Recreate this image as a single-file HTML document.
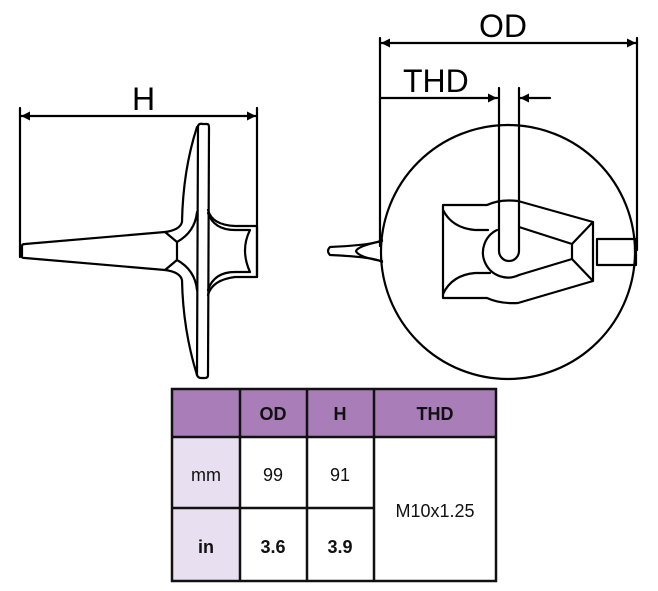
<!DOCTYPE html>
<html><head><style>
html,body{margin:0;padding:0;background:#fff;}
body{width:658px;height:591px;overflow:hidden;}
</style></head><body>
<svg width="658" height="591" viewBox="0 0 658 591" xmlns="http://www.w3.org/2000/svg" style="position:absolute;left:0;top:0">
<defs>
<marker id="a" viewBox="0 0 10 10" refX="10" refY="5" markerWidth="18" markerHeight="9" markerUnits="userSpaceOnUse" orient="auto-start-reverse"><path d="M0,0L10,5L0,10z" fill="#000"/></marker>
</defs>
<g fill="none" stroke="#000" stroke-width="2.2" stroke-linejoin="round" stroke-linecap="round">
<line x1="20" y1="108" x2="20" y2="257"/>
<line x1="257" y1="108" x2="257" y2="277"/>
<line x1="21" y1="116" x2="256" y2="116" marker-start="url(#a)" marker-end="url(#a)"/>
<path d="M22,257 L22,246 Q22,244 25,244 L165,232 L177,242 L177,260 L165,270 L25,258 Q22,258 22,257"/>
<path d="M198,126 Q199,123 203,124 L207,124 Q209,124 209,127 L208,375 Q208,378 205,378 L201,378 Q198,378 197,375"/>
<line x1="198" y1="126" x2="197" y2="375"/>
<path d="M197,127 Q183,170 182,222 Q180,230 165,232"/>
<path d="M197,375 Q183,330 182,280 Q180,272 165,270"/>
<path d="M177,242 Q195,232 197,212"/>
<path d="M177,260 Q195,270 197,290"/>
<path d="M208,210 Q212,225 235,226 L257,226 L257,277 L235,277 Q212,280 208,295"/>
<path d="M208,213 Q214,230 235,230 L250,230 Q240,250 250,272 L235,272 Q214,272 208,290"/>
<line x1="380" y1="38" x2="380" y2="246"/>
<line x1="637" y1="38" x2="637" y2="250"/>
<line x1="381" y1="43" x2="636" y2="43" marker-start="url(#a)" marker-end="url(#a)"/>
<line x1="381" y1="98" x2="497" y2="98" marker-end="url(#a)"/>
<line x1="550" y1="98" x2="520" y2="98" marker-end="url(#a)"/>
<circle cx="508" cy="252" r="127"/>
<path d="M499,88 L499,251 A10,10 0 0 0 519,251 L519,88"/>
<path d="M443,205 L487,205 Q500,199 518,201 L593,222 L593,281 L518,303 Q500,304 487,298 L443,298 Z"/>
<path d="M443,210 Q452,228 475,230 L488,230"/>
<path d="M443,294 Q452,275 475,273 L490,273"/>
<path d="M497,230 A24,24 0 1 0 519,275"/>
<path d="M519,227 L572,244 L572,259 L519,275"/>
<line x1="572" y1="244" x2="593" y2="222"/>
<line x1="572" y1="259" x2="593" y2="281"/>
<rect x="597" y="239" width="39" height="26"/>
<path d="M382,240 Q375,245 330,247 Q326,251 330,255 Q375,257 382,262"/>
<path d="M382,241 Q358,246 356,251 Q358,257 382,261"/>
</g>
<g font-family="Liberation Sans, sans-serif" font-size="32" fill="#000">
<text x="132" y="110">H</text>
<text x="479" y="37">OD</text>
<text x="403" y="92">THD</text>
</g>
<g>
<rect x="172" y="389" width="324" height="48" fill="#a87db8"/>
<rect x="172" y="437" width="68" height="144" fill="#e8dff0"/>
<g stroke="#111" stroke-width="2.5" fill="none">
<rect x="172" y="389" width="324" height="192"/>
<line x1="172" y1="437" x2="496" y2="437"/>
<line x1="172" y1="508" x2="374" y2="508"/>
<line x1="240" y1="389" x2="240" y2="581"/>
<line x1="307" y1="389" x2="307" y2="581"/>
<line x1="374" y1="389" x2="374" y2="581"/>
</g>
<g font-family="Liberation Sans, sans-serif" font-size="18" text-anchor="middle" fill="#111">
<text x="273" y="420" font-weight="bold">OD</text>
<text x="340" y="420" font-weight="bold">H</text>
<text x="435" y="420" font-weight="bold">THD</text>
<text x="206" y="481">mm</text>
<text x="273" y="481">99</text>
<text x="340" y="481">91</text>
<text x="435" y="517">M10x1.25</text>
<text x="206" y="553" font-weight="bold">in</text>
<text x="273" y="553" font-weight="bold">3.6</text>
<text x="340" y="553" font-weight="bold">3.9</text>
</g>
</g>
</svg>
</body></html>
